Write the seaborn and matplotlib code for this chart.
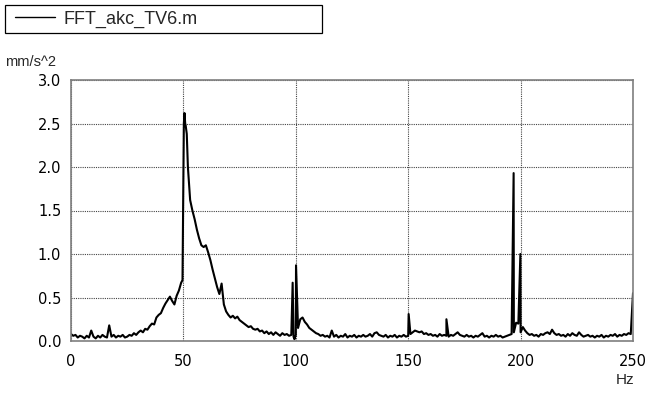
import numpy as np
import pandas as pd
import matplotlib
matplotlib.use("Agg")
import matplotlib.pyplot as plt
from matplotlib.patches import Rectangle
import seaborn as sns

# ---- data ----
series_name = "FFT_akc_TV6.m"
y_unit = "mm/s^2"
x_unit = "Hz"

# amplitude at each 1 Hz bin, 0..250 Hz
base_amp = [
    0.08, 0.06, 0.07, 0.04, 0.06, 0.05, 0.03, 0.06, 0.04, 0.12,
    0.05, 0.03, 0.06, 0.04, 0.07, 0.05, 0.04, 0.18, 0.05, 0.07,
    0.04, 0.06, 0.05, 0.07, 0.04, 0.05, 0.07, 0.06, 0.09, 0.07,
    0.10, 0.12, 0.10, 0.14, 0.13, 0.17, 0.20, 0.19, 0.27, 0.30,
    0.32, 0.38, 0.43, 0.47, 0.51, 0.46, 0.42, 0.52, 0.58, 0.67,
    1.90, 2.48, 2.00, 1.62, 1.50, 1.40, 1.28, 1.18, 1.10, 1.08,
    1.10, 1.02, 0.93, 0.82, 0.72, 0.62, 0.54, 0.66, 0.42, 0.34,
    0.30, 0.27, 0.29, 0.26, 0.28, 0.24, 0.22, 0.20, 0.18, 0.16,
    0.17, 0.14, 0.13, 0.14, 0.11, 0.12, 0.09, 0.11, 0.08, 0.10,
    0.07, 0.10, 0.08, 0.06, 0.09, 0.07, 0.08, 0.06, 0.07, 0.05,
    0.07, 0.15, 0.25, 0.27, 0.22, 0.19, 0.15, 0.13, 0.11, 0.09,
    0.08, 0.06, 0.07, 0.05, 0.06, 0.04, 0.12, 0.05, 0.07, 0.04,
    0.06, 0.05, 0.08, 0.04, 0.06, 0.05, 0.07, 0.04, 0.06, 0.05,
    0.07, 0.05, 0.06, 0.08, 0.05, 0.09, 0.10, 0.07, 0.06, 0.05,
    0.07, 0.04, 0.06, 0.05, 0.07, 0.04, 0.06, 0.05, 0.07, 0.05,
    0.06, 0.08, 0.10, 0.12, 0.11, 0.10, 0.11, 0.08, 0.09, 0.07,
    0.08, 0.06, 0.07, 0.05, 0.08, 0.06, 0.07, 0.06, 0.05, 0.07,
    0.06, 0.08, 0.10, 0.07, 0.06, 0.05, 0.07, 0.05, 0.06, 0.04,
    0.06, 0.05, 0.07, 0.09, 0.05, 0.06, 0.04, 0.06, 0.05, 0.07,
    0.05, 0.06, 0.04, 0.05, 0.06, 0.07, 0.08, 0.10, 0.21, 0.20,
    0.10, 0.16, 0.12, 0.09, 0.07, 0.08, 0.06, 0.07, 0.05, 0.08,
    0.07, 0.09, 0.10, 0.08, 0.13, 0.09, 0.07, 0.08, 0.06, 0.07,
    0.05, 0.08, 0.06, 0.09, 0.07, 0.06, 0.10, 0.07, 0.05, 0.06,
    0.07, 0.05, 0.06, 0.04, 0.06, 0.05, 0.07, 0.04, 0.06, 0.05,
    0.07, 0.06, 0.08, 0.05, 0.07, 0.06, 0.08, 0.07, 0.09, 0.08,
    0.55,
]
base_hz = np.arange(0, len(base_amp))

# narrow peaks between the 1 Hz bins
peak_hz = [49.6, 50.2, 50.5, 50.8, 51.5, 98.6, 99.4, 100.1, 150.2, 167.0, 196.9, 199.9]
peak_amp = [0.70, 2.50, 2.62, 2.50, 2.38, 0.67, 0.02, 0.87, 0.31, 0.25, 1.93, 1.00]

x_ticks = [0, 50, 100, 150, 200, 250]
y_ticks = [0.0, 0.5, 1.0, 1.5, 2.0, 2.5, 3.0]

df = pd.DataFrame({
    "Hz": np.concatenate([base_hz, peak_hz]),
    "amp": np.concatenate([base_amp, peak_amp]),
}).sort_values("Hz").reset_index(drop=True)

# ---- style ----
sns.set_theme(style="white")
plt.rcParams["font.family"] = ["Liberation Sans", "DejaVu Sans"]

W, H = 650, 399
fig = plt.figure(figsize=(W / 100, H / 100), dpi=100)
ax = fig.add_axes([71 / W, 1 - 341 / H, (633 - 71) / W, (341 - 80) / H])

sns.lineplot(data=df, x="Hz", y="amp", ax=ax, color="black", linewidth=1.5,
             estimator=None, sort=True, label=series_name)

ax.set_xlim(0, 250)
ax.set_ylim(0, 3.0)
ax.set_xticks(x_ticks)
ax.set_xticklabels([str(t) for t in x_ticks], family="DejaVu Sans", fontsize=10.5)
ax.set_yticks(y_ticks)
ax.set_yticklabels([f"{t:.1f}" for t in y_ticks], family="DejaVu Sans", fontsize=10.5)
ax.set_xlabel("")
ax.set_ylabel("")

ax.grid(True, color="#444444", linestyle=(0, (1, 1)), linewidth=0.8)
ax.set_axisbelow(True)
for s in ax.spines.values():
    s.set_color("#7f7f7f")
    s.set_linewidth(1.2)
ax.tick_params(axis="both", which="major", direction="out", length=5,
               width=1.0, color="#7f7f7f", labelcolor="black", pad=2)
ax.tick_params(axis="x", pad=4)

# legend at the top, inside its own rectangle
handles, labels = ax.get_legend_handles_labels()
ax.get_legend().remove()
fig.patches.append(Rectangle((5 / W, 1 - 33 / H), 317 / W, 28 / H,
                             transform=fig.transFigure, fill=True,
                             facecolor="white", edgecolor="black",
                             linewidth=0.9, zorder=1))
leg = fig.legend(handles, labels, loc="center left",
                 bbox_to_anchor=(15 / W, 1 - 19 / H), frameon=False,
                 fontsize=13, handlelength=2.2, handletextpad=0.5,
                 borderaxespad=0, borderpad=0)
for lh in leg.get_lines():
    lh.set_linewidth(1.0)

fig.text(5 / W, 1 - 62 / H, y_unit, ha="left", va="center", fontsize=10.5)
fig.text(634 / W, 1 - 380 / H, x_unit, ha="right", va="center", fontsize=11)

fig.savefig("out.png", dpi=100, facecolor="white")
